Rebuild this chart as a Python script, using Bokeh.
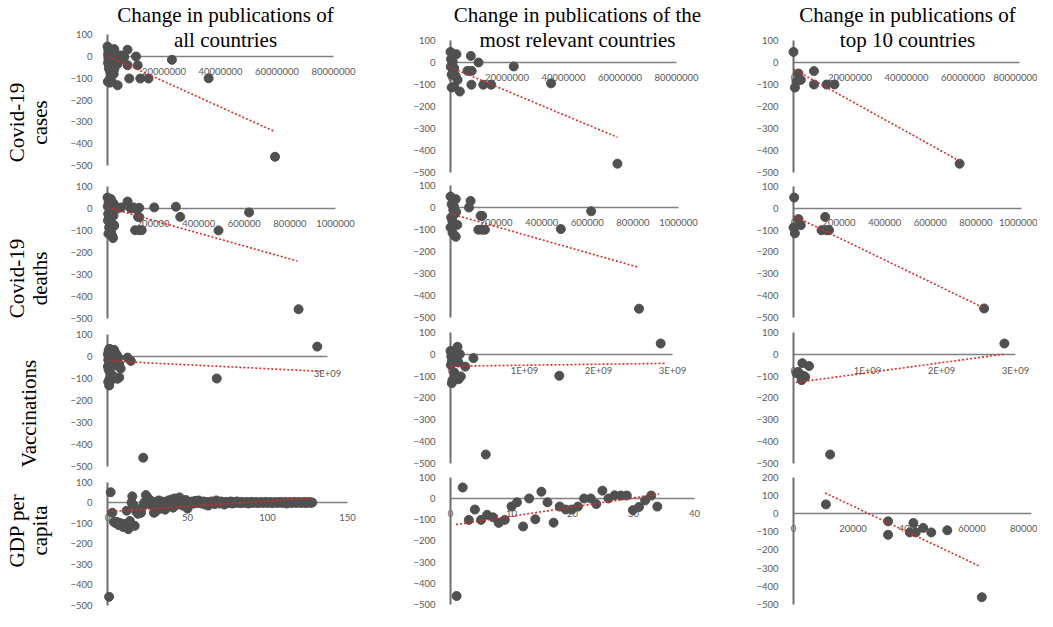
import math
from bokeh.plotting import figure
from bokeh.models import Range1d, LinearAxis, FixedTicker, BasicTickFormatter
from bokeh.core.properties import value
from bokeh.embed import file_html
from bokeh.resources import INLINE

# ---------------- data ----------------
col_titles = [["Change in publications of", "all countries"],
              ["Change in publications of the", "most relevant countries"],
              ["Change in publications of", "top 10 countries"]]
row_labels = [["Covid-19", "cases"], ["Covid-19", "deaths"], ["Vaccinations"], ["GDP per", "capita"]]

# Covid-19 cases (x in millions)
cases_all_x = [0.0, 0.2, 0.3, 0.4, 0.5, 0.6, 0.7, 0.8, 1.0, 1.0, 1.2, 1.3, 1.5, 1.5, 1.6, 1.8, 2.0, 2.2, 2.4, 2.4,
               2.6, 2.8, 3.0, 3.2, 3.5, 3.6, 4.1, 4.5, 5.0, 5.9, 7.1, 7.1, 7.7, 10.1, 10.7, 11.6, 14.5, 22.8, 35.8, 59.3,
               0.1, 0.3, 0.9, 1.1, 0.2, 2.0, 1.4]
cases_all_y = [46, 10, -5, -20, -55, -43, 0, -120, -100, 15, -73, 25, -10, -115, -45, 5, -30, -80, 34, -58,
               -15, 10, -25, -5, -35, -132, -20, 5, 2, -3, 31, -40, -101, 0, -40, -101, -101, -15, -100, -460,
               -115, 30, -60, -90, -30, 18, -5]
cases_all_trend_x = [0.0, 59.3]
cases_all_trend_y = [3, -345]

cases_rel_x = [0.0, 2.1, 7.2, 0.2, 0.6, 0.1, 1.3, 0.4, 0.9, 9.9, 6.0, 7.5, 2.5, 0.4, 1.3, 3.3, 7.4, 11.6, 14.4, 22.4,
               35.6, 59.1, 1.8, 0.8]
cases_rel_y = [48, 38, 30, 15, 0, -20, -25, -55, -45, 0, -38, -38, -79, -114, -110, -132, -101, -101, -101, -18,
               -95, -460, -60, 5]
cases_rel_trend_x = [0.0, 59.1]
cases_rel_trend_y = [-22, -340]

cases_top_x = [0.0, 1.75, 2.6, 1.05, 0.5, 7.25, 7.25, 11.7, 14.5, 58.8]
cases_top_y = [48, -50, -79, -88, -114, -39, -100, -100, -100, -460]
cases_top_trend_x = [0.0, 58.8]
cases_top_trend_y = [-30, -448]

# Covid-19 deaths (x in thousands)
deaths_all_x = [0, 15, 5, 10, 20, 25, 30, 8, 12, 18, 3, 22, 26, 6, 14, 28, 7, 16, 21, 24,
                2, 35, 45, 60, 88, 102, 115, 125, 139, 134, 140, 121, 139, 150, 205, 300, 319, 487, 621, 838,
                4, 1, 29]
deaths_all_y = [50, 43, 30, 20, 15, 25, 5, 0, -5, -15, -25, -30, -33, -45, -60, -80, -87, -110, -125, -135,
                -55, 10, 0, 5, 32, 0, 5, -2, 3, -38, -40, -99, -99, -99, 5, 8, -38, -100, -18, -460,
                -115, 10, -76]
deaths_all_trend_x = [0, 833]
deaths_all_trend_y = [5, -240]

deaths_rel_x = [0, 23, 88, 81, 5, 12, 18, 3, 8, 132, 139, 122, 139, 151, 484, 617, 827, 30, 9, 16, 23, 0, 15, 25]
deaths_rel_y = [50, 38, 30, 0, 15, -10, -30, -45, -60, -38, -38, -101, -101, -101, -98, -17, -460, -79, -115, -125,
                -133, -91, 5, -20]
deaths_rel_trend_x = [0, 825]
deaths_rel_trend_y = [-28, -272]

deaths_top_x = [3, 22, 32, 0, 6, 139, 123, 146, 156, 836]
deaths_top_y = [49, -50, -78, -89, -115, -40, -101, -101, -101, -460]
deaths_top_trend_x = [0, 832]
deaths_top_trend_y = [-35, -456]

# Vaccinations (x in millions)
vacc_all_x = [5, 15, 25, 40, 55, 70, 91, 20, 35, 50, 80, 110, 130, 150, 10, 30, 60, 100, 160, 180,
              45, 15, 273, 318, 68, 45, 23, 136, 160, 10, 30, 50, 487, 1490, 2860, 5]
vacc_all_y = [10, 25, 35, 20, 30, 15, 30, 0, -5, 5, 10, 15, 5, -5, -15, -25, -35, -40, -35, -55,
              -50, -60, -5, -20, -86, -109, -132, -101, -95, -115, -100, -80, -460, -100, 45, -45]
vacc_all_trend_x = [0, 2950]
vacc_all_trend_y = [-20, -68]

vacc_rel_x = [2840, 1470, 477, 310, 200, 95, 126, 0, 10, 20, 108, 50, 140, 108, 27, 18, 5, 35, 60]
vacc_rel_y = [49, -99, -460, -18, -57, 34, 0, 15, -10, -30, -38, -84, -102, -115, -119, -133, -50, 5, -20]
vacc_rel_trend_x = [0, 2900]
vacc_rel_trend_y = [-55, -42]

vacc_top_x = [2850, 495, 120, 210, 63, 77, 135, 158, 110, 40]
vacc_top_y = [49, -460, -41, -54, -81, -92, -99, -104, -119, -87]
vacc_top_trend_x = [30, 2840]
vacc_top_trend_y = [-130, 0]

# GDP per capita
gdp_all_x = [1, 2, 3, 4, 5, 6, 7, 8, 9, 10, 11, 12, 13, 14, 15, 15.5, 16, 17, 18, 19,
             20, 21, 22, 23, 24, 25, 26, 27, 28, 29, 30, 31, 32, 33, 34, 35, 36, 37, 38, 39,
             40, 41, 42, 43, 44, 45, 46, 47, 48, 49, 50, 51, 52, 53, 54, 55, 56, 57, 58, 59,
             60, 61, 62, 63, 64, 65, 66, 67, 68, 69, 70, 71, 72, 73, 74, 75, 76, 77, 78, 79,
             80, 81, 82, 83, 84, 85, 86, 87, 88, 89, 90, 91, 92, 93, 94, 95, 96, 97, 98, 99,
             100, 101, 102, 103, 104, 105, 106, 107, 108, 109, 110, 111, 112, 113, 114, 115, 116, 117, 118, 119,
             120, 121, 122, 123, 124, 125, 126, 127, 128]
gdp_all_y = [-460, 50, -50, -95, -100, -95, -110, -100, -115, -120, -105, -40, -130, -90, 0, 30, -10, -114, -45, -55,
             -40, -50, -20, 0, 36, 25, 15, -10, 5, -50, -45, -10, 10, -30, 5, 0, -35, -20, 10, -5,
             15, -25, 20, 5, -10, 25, 8, -15, 5, 12, -30, 0, -8, 5, -5, 8, -3, 10, 0, -5,
             5, -10, 3, -15, -2, 5, 0, -8, 10, 2, -5, 5, 0, -10, 3, -3, 0, 5, -5, 2,
             -2, 5, 0, -3, 3, -2, 0, 2, -5, 0, 3, -2, 0, 2, -3, 0, 2, -2, 0, 3,
             -2, 0, 2, -3, 0, 2, -2, 0, 3, -2, 0, 2, -5, 0, 2, -2, 0, 3, -2, 0,
             2, -2, 0, 3, -3, 0, 2, -2, 0]
gdp_all_trend_x = [0, 128]
gdp_all_trend_y = [-45, 22]

gdp_rel_x = [1.0, 2.0, 3.0, 4.0, 5.0, 6.0, 7.0, 7.9, 8.9, 10.0, 10.9, 11.9, 12.9, 13.9, 14.9, 15.9, 16.9, 17.9,
             18.9, 19.9, 20.9, 21.9, 23.0, 23.9, 24.9, 25.9, 26.9, 27.9, 28.9, 29.9, 30.9, 31.9, 32.9, 33.9]
gdp_rel_y = [-460, 52, -101, -52, -101, -77, -89, -115, -101, -38, -18, -132, 0, -98, 32, -18, -114, -38,
             -52, -52, -38, 0, 0, -26, 37, 0, 15, 14, 14, -55, -40, -9, 14, -38]
gdp_rel_trend_x = [0.9, 34.2]
gdp_rel_trend_y = [-123, 21]

gdp_top_x = [10900, 31800, 31800, 39100, 40300, 41100, 43600, 46300, 51700, 63300]
gdp_top_y = [50, -43, -117, -104, -52, -104, -79, -104, -92, -460]
gdp_top_trend_x = [10600, 62900]
gdp_top_trend_y = [113, -292]

# tick values
y_ticks = [100, 0, -100, -200, -300, -400, -500]
y_ticks_gdp_top = [200, 100, 0, -100, -200, -300, -400, -500]
x_ticks_cases = [0, 20000000, 40000000, 60000000, 80000000]
x_ticks_deaths = [0, 200000, 400000, 600000, 800000, 1000000]
x_ticks_vacc = [0, 1e9, 2e9, 3e9]
x_ticks_vacc_all = [0, 3e9]
vacc_tick_labels = {0: "0", 1e9: "1E+09", 2e9: "2E+09", 3e9: "3E+09"}
x_ticks_gdp_all = [0, 50, 100, 150]
x_ticks_gdp_rel = [0, 10, 20, 30, 40]
x_ticks_gdp_top = [0, 20000, 40000, 60000, 80000]

M, K = 1e6, 1e3
panels = [
    # row 0: cases
    dict(x=[v * M for v in cases_all_x], y=cases_all_y, tx=[v * M for v in cases_all_trend_x], ty=cases_all_trend_y,
         xt=x_ticks_cases, yt=y_ticks, xmax=80e6),
    dict(x=[v * M for v in cases_rel_x], y=cases_rel_y, tx=[v * M for v in cases_rel_trend_x], ty=cases_rel_trend_y,
         xt=x_ticks_cases, yt=y_ticks, xmax=80e6),
    dict(x=[v * M for v in cases_top_x], y=cases_top_y, tx=[v * M for v in cases_top_trend_x], ty=cases_top_trend_y,
         xt=x_ticks_cases, yt=y_ticks, xmax=80e6),
    # row 1: deaths
    dict(x=[v * K for v in deaths_all_x], y=deaths_all_y, tx=[v * K for v in deaths_all_trend_x], ty=deaths_all_trend_y,
         xt=x_ticks_deaths, yt=y_ticks, xmax=1e6),
    dict(x=[v * K for v in deaths_rel_x], y=deaths_rel_y, tx=[v * K for v in deaths_rel_trend_x], ty=deaths_rel_trend_y,
         xt=x_ticks_deaths, yt=y_ticks, xmax=1e6),
    dict(x=[v * K for v in deaths_top_x], y=deaths_top_y, tx=[v * K for v in deaths_top_trend_x], ty=deaths_top_trend_y,
         xt=x_ticks_deaths, yt=y_ticks, xmax=1e6),
    # row 2: vaccinations
    dict(x=[v * M for v in vacc_all_x], y=vacc_all_y, tx=[v * M for v in vacc_all_trend_x], ty=vacc_all_trend_y,
         xt=x_ticks_vacc_all, yt=y_ticks, xmax=3e9, over=vacc_tick_labels),
    dict(x=[v * M for v in vacc_rel_x], y=vacc_rel_y, tx=[v * M for v in vacc_rel_trend_x], ty=vacc_rel_trend_y,
         xt=x_ticks_vacc, yt=y_ticks, xmax=3e9, over=vacc_tick_labels),
    dict(x=[v * M for v in vacc_top_x], y=vacc_top_y, tx=[v * M for v in vacc_top_trend_x], ty=vacc_top_trend_y,
         xt=x_ticks_vacc, yt=y_ticks, xmax=3e9, over=vacc_tick_labels),
    # row 3: GDP per capita
    dict(x=gdp_all_x, y=gdp_all_y, tx=gdp_all_trend_x, ty=gdp_all_trend_y,
         xt=x_ticks_gdp_all, yt=y_ticks, xmax=150),
    dict(x=gdp_rel_x, y=gdp_rel_y, tx=gdp_rel_trend_x, ty=gdp_rel_trend_y,
         xt=x_ticks_gdp_rel, yt=y_ticks, xmax=40),
    dict(x=gdp_top_x, y=gdp_top_y, tx=gdp_top_trend_x, ty=gdp_top_trend_y,
         xt=x_ticks_gdp_top, yt=y_ticks_gdp_top, xmax=80000),
]

# ---------------- layout (pixels) ----------------
W, H = 1037, 611
OFF = 8
COL_AXIS_X = [115, 458, 801]
ROW_ZERO_Y = [[64, 70, 70], [216, 215, 215.7], [364, 361.7, 361.7], [510, 506, 521]]
ROW_PX_PER_100 = [[21.8, 22.0, 22.0], [21.9, 22.0, 21.8], [22.0, 21.8, 21.8], [20.5, 21.2, 18.2]]
X_PX_PER_UNIT = [[226 / 80e6] * 3, [228 / 1e6] * 3, [220 / 3e9, 74 / 1e9, 74 / 1e9], [1.6, 6.1, 59.5 / 20000]]

DOT = "#505050"
RED = "#d42f2a"
TICK_TXT = "#595959"

p = figure(width=W, height=H, x_range=Range1d(0, W), y_range=Range1d(0, H),
           output_backend="svg", toolbar_location=None, x_axis_type=None, y_axis_type=None,
           min_border=0, min_border_left=0, min_border_right=0, min_border_top=0, min_border_bottom=0,
           outline_line_color=None, background_fill_color="white", border_fill_color="white")

for idx, spec in enumerate(panels):
    r, c = divmod(idx, 3)
    xn, yn = f"x{r}{c}", f"y{r}{c}"
    cx0 = COL_AXIS_X[c] - OFF
    kx = X_PX_PER_UNIT[r][c]
    cy0 = ROW_ZERO_Y[r][c] - OFF
    ky = ROW_PX_PER_100[r][c] / 100.0
    p.extra_x_ranges[xn] = Range1d(-cx0 / kx, (W - cx0) / kx)
    p.extra_y_ranges[yn] = Range1d((cy0 - H) / ky, cy0 / ky)

    ymin, ymax = min(spec["yt"]), max(spec["yt"])
    ya = LinearAxis(x_range_name=xn, y_range_name=yn, fixed_location=0, bounds=(ymin, ymax),
                    ticker=FixedTicker(ticks=spec["yt"]), formatter=BasicTickFormatter(use_scientific=False),
                    axis_line_color="#6e6e6e", axis_line_width=2,
                    major_tick_line_color=None, minor_tick_line_color=None,
                    major_label_standoff=9, major_label_text_font="Lato",
                    major_label_text_font_size="9.5px", major_label_text_color=TICK_TXT, level="underlay")
    p.add_layout(ya, "left")
    xa = LinearAxis(x_range_name=xn, y_range_name=yn, fixed_location=0, bounds=(0, spec["xmax"]),
                    ticker=FixedTicker(ticks=spec["xt"]), formatter=BasicTickFormatter(use_scientific=False),
                    axis_line_color="#808080", axis_line_width=1.5,
                    major_tick_line_color=None, minor_tick_line_color=None,
                    major_label_standoff=5, major_label_text_font="Lato",
                    major_label_text_font_size="9.5px", major_label_text_color=TICK_TXT, level="underlay")
    if "over" in spec:
        xa.major_label_overrides = spec["over"]
    p.add_layout(xa, "below")

    p.scatter(spec["x"], spec["y"], size=9, fill_color=DOT, line_color=DOT,
              x_range_name=xn, y_range_name=yn)
    p.line(spec["tx"], spec["ty"], line_color=RED, line_width=1.6, line_dash="2 2",
           x_range_name=xn, y_range_name=yn)

# column titles
TITLE_CX = [233, 585, 915]
TITLE_BASE = [22, 47]
tx, ty, tt = [], [], []
for c, lines in enumerate(col_titles):
    for i, line in enumerate(lines):
        tx.append(TITLE_CX[c] - OFF)
        ty.append(H - (TITLE_BASE[i] - OFF))
        tt.append(line)
p.text(x=tx, y=ty, text=tt, text_font=value("Liberation Serif"), text_font_size="21px",
       text_align="center", text_baseline="alphabetic", text_color="black")

# row labels (rotated)
ROW_CY = [130, 286, 421, 538]
ROW_BASE_2 = [24, 47]
ROW_BASE_1 = [36]
rx, ry, rt = [], [], []
for r, lines in enumerate(row_labels):
    bases = ROW_BASE_2 if len(lines) == 2 else ROW_BASE_1
    for i, line in enumerate(lines):
        rx.append(bases[i] - OFF)
        ry.append(H - (ROW_CY[r] - OFF))
        rt.append(line)
p.text(x=rx, y=ry, text=rt, angle=math.pi / 2, text_font=value("Liberation Serif"), text_font_size="21px",
       text_align="center", text_baseline="alphabetic", text_color="black")

open("out.html", "w").write(file_html(p, INLINE))
